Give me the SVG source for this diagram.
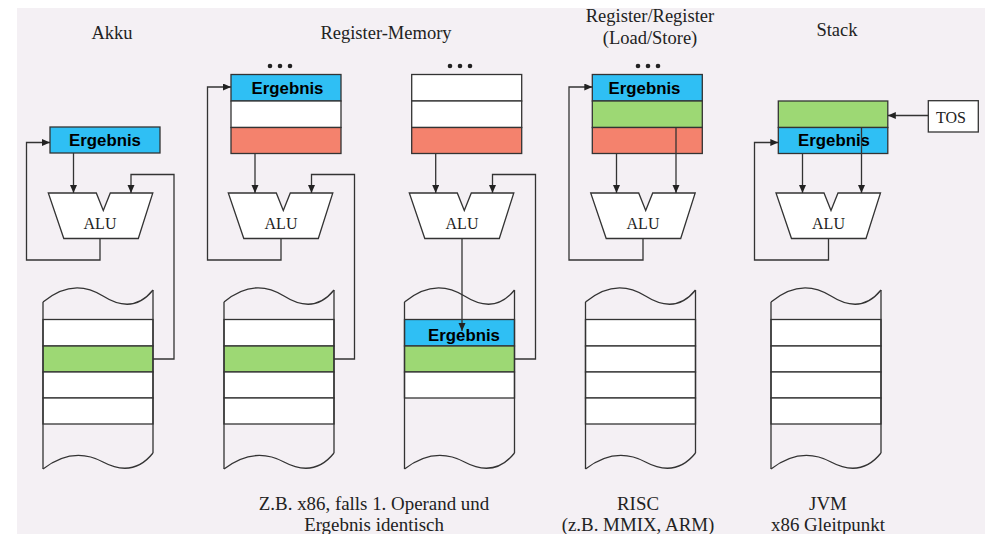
<svg xmlns="http://www.w3.org/2000/svg" width="989" height="534" viewBox="0 0 989 534">
<style>
.ln{fill:none;stroke:#333;stroke-width:1.3}
.bx{stroke:#333;stroke-width:1.3}
.blue{fill:#2fbff4}
.green{fill:#9dd874}
.red{fill:#f4826d}
.white{fill:#ffffff}
.alu{fill:#fff;stroke:#333;stroke-width:1.3}
.t{font-family:"Liberation Serif","Times New Roman",serif;font-size:18.5px;fill:#222;text-anchor:middle}
.c{font-size:18.9px}
.a{font-family:"Liberation Serif","Times New Roman",serif;font-size:16px;fill:#222;text-anchor:middle}
.e{font-family:"Liberation Sans",Arial,sans-serif;font-size:16.8px;font-weight:bold;fill:#000;text-anchor:middle}
.dot{fill:#222}
.conn{fill:none;stroke:#333;stroke-width:1.3}
</style>
<defs>
<marker id="arr" markerWidth="9" markerHeight="8" refX="8" refY="3.5" orient="auto" markerUnits="userSpaceOnUse">
<path d="M0,0 L8,3.5 L0,7 z" fill="#222"/>
</marker>
<path id="alu" d="M0,0 H48 L55,17.5 L62,0 H104.5 L90,45.5 H15.5 Z"/>
<g id="memshape">
<path class="ln" d="M0,302 Q30,277 60,296 T110,290"/>
<path class="ln" d="M0,469 Q30,446 60,462 T110,453"/>
<path class="ln" d="M0,302 V469 M110,290 V453"/>
</g>
</defs>
<rect x="17" y="8" width="968" height="526" fill="#f4f0f4"/>

<g id="titles">
<text class="t" x="112" y="39">Akku</text>
<text class="t" x="386" y="39">Register-Memory</text>
<text class="t" x="650" y="22">Register/Register</text>
<text class="t" x="650" y="44">(Load/Store)</text>
<text class="t" x="837" y="36">Stack</text>
</g>

<g id="captions">
<text class="t c" x="374" y="510">Z.B. x86, falls 1. Operand und</text>
<text class="t c" x="374" y="531">Ergebnis identisch</text>
<text class="t c" x="638" y="510">RISC</text>
<text class="t c" x="638" y="531">(z.B. MMIX, ARM)</text>
<text class="t c" x="828" y="510">JVM</text>
<text class="t c" x="828" y="531">x86 Gleitpunkt</text>
</g>

<!-- Akku column -->
<g id="akku-reg">
<rect class="bx blue" x="50" y="127" width="110" height="26"/>
<text class="e" x="105" y="146">Ergebnis</text>
</g>
<g id="akku-alu">
<use href="#alu" class="alu" x="48.3" y="193"/>
<text class="a" x="100" y="229">ALU</text>
</g>
<g id="akku-mem">
<rect class="bx white" x="43" y="319.5" width="110" height="26.5"/>
<rect class="bx green" x="43" y="346" width="110" height="26"/>
<rect class="bx white" x="43" y="372" width="110" height="26"/>
<rect class="bx white" x="43" y="398" width="110" height="26"/>
<use href="#memshape" x="43"/>
</g>

<!-- Register-Memory column A -->
<g id="rm1-reg">
<circle class="dot" cx="270" cy="66" r="2.3"/><circle class="dot" cx="280" cy="66" r="2.3"/><circle class="dot" cx="290" cy="66" r="2.3"/>
<rect class="bx blue" x="231" y="74.5" width="110" height="26.5"/>
<rect class="bx white" x="231" y="101" width="110" height="26.5"/>
<rect class="bx red" x="231" y="127.5" width="110" height="26"/>
<text class="e" x="287.5" y="93.5">Ergebnis</text>
</g>
<g id="rm1-alu">
<use href="#alu" class="alu" x="228.3" y="193"/>
<text class="a" x="281" y="229">ALU</text>
</g>
<g id="rm1-mem">
<rect class="bx white" x="224" y="319.5" width="110" height="26.5"/>
<rect class="bx green" x="224" y="346" width="110" height="26"/>
<rect class="bx white" x="224" y="372" width="110" height="26"/>
<rect class="bx white" x="224" y="398" width="110" height="26"/>
<use href="#memshape" x="224"/>
</g>

<!-- Register-Memory column B -->
<g id="rm2-reg">
<circle class="dot" cx="450" cy="66" r="2.3"/><circle class="dot" cx="460" cy="66" r="2.3"/><circle class="dot" cx="470" cy="66" r="2.3"/>
<rect class="bx white" x="411.7" y="74.5" width="110" height="26.5"/>
<rect class="bx white" x="411.7" y="101" width="110" height="26.5"/>
<rect class="bx red" x="411.7" y="127.5" width="110" height="26"/>
</g>
<g id="rm2-alu">
<use href="#alu" class="alu" x="409.3" y="193"/>
<text class="a" x="462" y="229">ALU</text>
</g>
<g id="rm2-mem">
<rect class="bx blue" x="404.5" y="319.5" width="110" height="26.5"/>
<rect class="bx green" x="404.5" y="346" width="110" height="26"/>
<rect class="bx white" x="404.5" y="372" width="110" height="26"/>
<text class="e" x="464" y="341">Ergebnis</text>
<use href="#memshape" x="404.5"/>
</g>

<!-- Register/Register column -->
<g id="rr-reg">
<circle class="dot" cx="638" cy="66" r="2.3"/><circle class="dot" cx="648" cy="66" r="2.3"/><circle class="dot" cx="658" cy="66" r="2.3"/>
<rect class="bx blue" x="592.3" y="74.5" width="110" height="26.5"/>
<rect class="bx green" x="592.3" y="101" width="110" height="26.5"/>
<rect class="bx red" x="592.3" y="127.5" width="110" height="26"/>
<text class="e" x="644.5" y="93.5">Ergebnis</text>
</g>
<g id="rr-alu">
<use href="#alu" class="alu" x="590.7" y="193"/>
<text class="a" x="643" y="229">ALU</text>
</g>
<g id="rr-mem">
<rect class="bx white" x="585.5" y="319.5" width="110" height="26.5"/>
<rect class="bx white" x="585.5" y="346" width="110" height="26"/>
<rect class="bx white" x="585.5" y="372" width="110" height="26"/>
<rect class="bx white" x="585.5" y="398" width="110" height="26"/>
<use href="#memshape" x="585.5"/>
</g>

<!-- Stack column -->
<g id="st-reg">
<rect class="bx green" x="778.3" y="101" width="109.5" height="26.5"/>
<rect class="bx blue" x="778.3" y="127.5" width="109.5" height="26"/>
<text class="e" x="834" y="146">Ergebnis</text>
</g>
<g id="st-tos">
<rect class="bx white" x="928.3" y="100.7" width="50" height="31.3"/>
<text class="a" x="951" y="123">TOS</text>
</g>
<g id="st-alu">
<use href="#alu" class="alu" x="776" y="193"/>
<text class="a" x="828.5" y="229">ALU</text>
</g>
<g id="st-mem">
<rect class="bx white" x="771" y="319.5" width="110" height="26.5"/>
<rect class="bx white" x="771" y="346" width="110" height="26"/>
<rect class="bx white" x="771" y="372" width="110" height="26"/>
<rect class="bx white" x="771" y="398" width="110" height="26"/>
<use href="#memshape" x="771"/>
</g>

<g id="connectors" class="conn">
<path d="M73.5,153 V193" marker-end="url(#arr)"/>
<path d="M153,359 H174 V174.5 H131 V193" marker-end="url(#arr)"/>
<path d="M100,238.5 V260 H26.5 V142.5 H50" marker-end="url(#arr)"/>

<path d="M255,153.5 V193" marker-end="url(#arr)"/>
<path d="M334,359 H354.5 V174.5 H311.5 V193" marker-end="url(#arr)"/>
<path d="M281,238.5 V260 H207.5 V87 H231" marker-end="url(#arr)"/>

<path d="M435.7,153.5 V193" marker-end="url(#arr)"/>
<path d="M514.5,359 H535.5 V174.5 H492.5 V193" marker-end="url(#arr)"/>
<path d="M462,238.5 V331" marker-end="url(#arr)"/>

<path d="M616.5,153.5 V193" marker-end="url(#arr)"/>
<path d="M676,127.5 V193" marker-end="url(#arr)"/>
<path d="M643,238.5 V260 H569 V87 H592.3" marker-end="url(#arr)"/>

<path d="M928.3,115.5 H887.8" marker-end="url(#arr)"/>
<path d="M802.5,153.5 V193" marker-end="url(#arr)"/>
<path d="M861.5,127.5 V193" marker-end="url(#arr)"/>
<path d="M828.5,238.5 V260 H754.5 V142.5 H778.3" marker-end="url(#arr)"/>
</g>
</svg>
